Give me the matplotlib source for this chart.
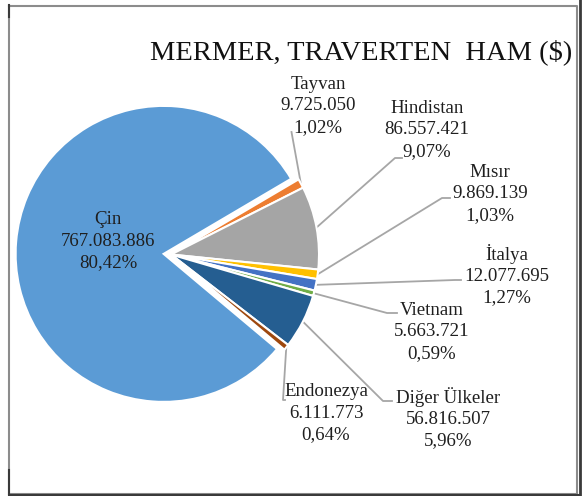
import math
import matplotlib
matplotlib.use('Agg')
import matplotlib.pyplot as plt

ulkeler = ['Çin', 'Tayvan', 'Hindistan', 'Mısır', 'İtalya', 'Vietnam', 'Diğer Ülkeler', 'Endonezya']
degerler = [767083886, 9725050, 86557421, 9869139, 12077695, 5663721, 56816507, 6111773]
renkler = ['#5B9BD5', '#ED7D31', '#A5A5A5', '#FFC000', '#4472C4', '#70AD47', '#255E91', '#9E480E']
baslik = 'MERMER, TRAVERTEN  HAM ($)'

W, H = 585, 496
plt.rcParams['font.family'] = ['Liberation Serif', 'DejaVu Serif']

def Y(y):
    # piksel koordinatini (yukaridan asagi) eksen koordinatina cevir
    return H - y

fig = plt.figure(figsize=(W / 100, H / 100), dpi=100)
ax = fig.add_axes([0, 0, 1, 1])

merkez = (171, Y(254.5))
yaricap = 148
# explode veri biriminde (piksel) verilir
patlat = [7.4] + [0] * (len(degerler) - 1)

dilimler, _ = ax.pie(degerler, colors=renkler, explode=patlat, radius=yaricap, center=merkez,
                     startangle=320, counterclock=False,
                     wedgeprops=dict(edgecolor='white', linewidth=1.5))

ax.set_xlim(0, W)
ax.set_ylim(0, H)
ax.set_aspect('auto')
ax.axis('off')

toplam = sum(degerler)

def etiket(ad, v):
    sayi = f'{v:,}'.replace(',', '.')
    yuzde = f'{v / toplam * 100:.2f}'.replace('.', ',') + '%'
    return f'{ad}\n{sayi}\n{yuzde}'

# etiket yerleri (orta satirin merkezi) ve kilavuz cizgisi kirilma noktalari
yerler = {
    'Çin': (108, 241),
    'Tayvan': (318, 106),
    'Hindistan': (427, 130),
    'Mısır': (490, 194),
    'İtalya': (506.5, 275),
    'Vietnam': (432, 332),
    'Diğer Ülkeler': (448, 418),
    'Endonezya': (326, 413),
}
kirilmalar = {
    'Tayvan': [(291.5, 132)],
    'Hindistan': [(395, 158), (402, 158)],
    'Mısır': [(442, 198), (450, 198)],
    'İtalya': [(455, 280), (461, 280)],
    'Vietnam': [(387, 313), (397, 313)],
    'Diğer Ülkeler': [(383, 401), (392, 401)],
    'Endonezya': [(283, 400), (285, 400)],
}

for i, ad in enumerate(ulkeler):
    x, y = yerler[ad]
    ax.text(x, Y(y), etiket(ad, degerler[i]), ha='center', va='center',
            fontsize=13.6, linespacing=1.33, color='#1f1f1f')
    if ad in kirilmalar:
        w = dilimler[i]
        aci = math.radians((w.theta1 + w.theta2) / 2)
        cx, cy = w.center
        xs = [cx + w.r * math.cos(aci)] + [p[0] for p in kirilmalar[ad]]
        ys = [cy + w.r * math.sin(aci)] + [Y(p[1]) for p in kirilmalar[ad]]
        ax.plot(xs, ys, color='#A6A6A6', lw=1.3, zorder=0.5)

ax.text(361, Y(52), baslik, ha='center', va='center', fontsize=20.5, color='#111111')

# cerceve
ax.plot([8.5, 577, 577, 8.5, 8.5], [Y(5.5), Y(5.5), Y(494), Y(494), Y(5.5)],
        color='#8C8C8C', lw=1.5, clip_on=False)
ax.plot([580, 580], [Y(0), Y(496)], color='#3a3a3a', lw=2)
ax.plot([8.5, 580], [Y(494.5), Y(494.5)], color='#3a3a3a', lw=1.5)
ax.plot([9, 9], [Y(5), Y(17)], color='#3a3a3a', lw=1.5)
ax.plot([9, 9], [Y(470), Y(494)], color='#3a3a3a', lw=1.5)

fig.savefig('out.png', dpi=100)
